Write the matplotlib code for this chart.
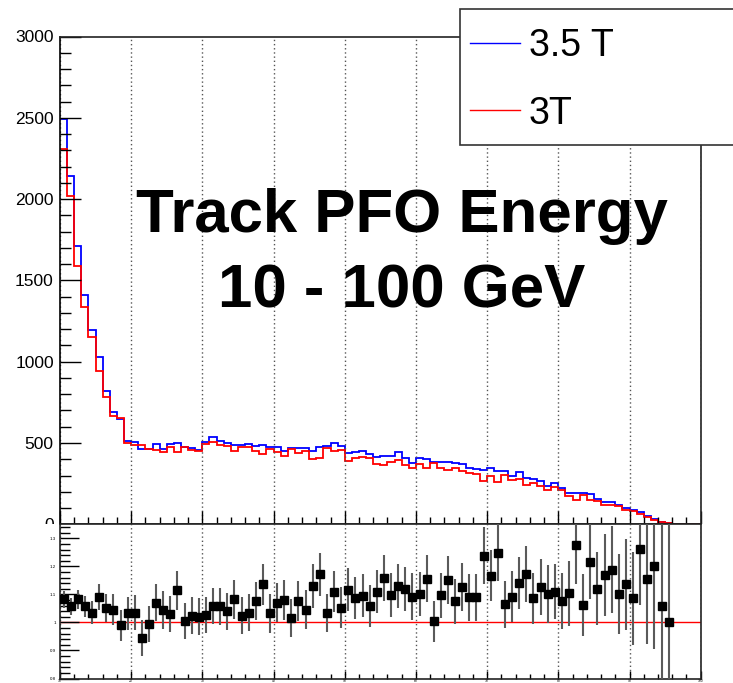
import numpy as np
import matplotlib
matplotlib.use("Agg")
import matplotlib.pyplot as plt
from matplotlib.patches import Rectangle
from matplotlib.lines import Line2D
from matplotlib.ticker import MultipleLocator

plt.rcParams['font.family'] = ['Liberation Sans', 'DejaVu Sans']

# ---------------- data ----------------
x_min, x_max, bin_width = 10, 100, 1
labels = ["3.5 T", "3T"]
title_lines = ["Track PFO Energy", "10 - 100 GeV"]

counts_35T = [2493, 2140, 1713, 1410, 1193, 1028, 817, 690, 649, 514,
              506, 461, 461, 492, 461, 492, 498, 477, 471, 457,
              508, 535, 514, 498, 488, 488, 492, 484, 488, 477,
              477, 453, 471, 471, 471, 451, 477, 484, 502, 482,
              436, 443, 451, 430, 412, 420, 420, 447, 406, 379,
              410, 404, 381, 381, 381, 375, 371, 344, 340, 332,
              349, 325, 326, 299, 319, 283, 279, 267, 234, 252,
              226, 194, 194, 192, 184, 158, 138, 138, 121, 98,
              90, 78, 51, 35, 17, 6, 0, 0, 0, 0]

counts_3T = [2310, 2020, 1586, 1334, 1153, 940, 781, 663, 654, 500,
             490, 488, 464, 459, 442, 478, 447, 475, 460, 448,
             495, 505, 486, 479, 451, 477, 475, 450, 430, 462,
             445, 420, 464, 438, 451, 400, 407, 469, 452, 458,
             390, 407, 411, 407, 371, 362, 383, 396, 363, 347,
             372, 349, 379, 347, 331, 349, 329, 316, 312, 268,
             299, 260, 306, 274, 280, 241, 257, 237, 213, 227,
             210, 176, 152, 181, 151, 141, 118, 116, 110, 86,
             83, 62, 44, 29, 16, 6, 0, 0, 0, 0]

ratio = [1.082, 1.057, 1.082, 1.057, 1.035, 1.092, 1.050, 1.045, 0.990, 1.032,
         1.035, 0.944, 0.993, 1.071, 1.044, 1.030, 1.114, 1.005, 1.024, 1.021,
         1.027, 1.059, 1.057, 1.039, 1.082, 1.024, 1.035, 1.075, 1.136, 1.032,
         1.071, 1.079, 1.016, 1.075, 1.045, 1.129, 1.171, 1.033, 1.110, 1.053,
         1.117, 1.088, 1.096, 1.057, 1.110, 1.159, 1.097, 1.130, 1.118, 1.092,
         1.101, 1.156, 1.004, 1.097, 1.150, 1.075, 1.127, 1.089, 1.089, 1.238,
         1.167, 1.249, 1.064, 1.092, 1.140, 1.173, 1.086, 1.127, 1.101, 1.110,
         1.075, 1.104, 1.277, 1.062, 1.217, 1.120, 1.169, 1.188, 1.101, 1.136,
         1.086, 1.262, 1.154, 1.201, 1.057, 1.000]

ratio_err = [0.030, 0.030, 0.035, 0.038, 0.042, 0.046, 0.050, 0.055, 0.055, 0.060,
             0.062, 0.063, 0.064, 0.066, 0.067, 0.065, 0.070, 0.065, 0.066, 0.067,
             0.064, 0.064, 0.065, 0.066, 0.068, 0.066, 0.066, 0.068, 0.074, 0.068,
             0.071, 0.072, 0.068, 0.071, 0.070, 0.078, 0.078, 0.068, 0.072, 0.072,
             0.077, 0.075, 0.075, 0.075, 0.078, 0.083, 0.078, 0.079, 0.079, 0.083,
             0.078, 0.084, 0.073, 0.081, 0.086, 0.081, 0.085, 0.085, 0.085, 0.102,
             0.091, 0.103, 0.084, 0.090, 0.093, 0.101, 0.090, 0.100, 0.103, 0.098,
             0.100, 0.115, 0.140, 0.110, 0.135, 0.130, 0.147, 0.155, 0.143, 0.163,
             0.165, 0.200, 0.230, 0.295, 0.500, 0.600]

# ---------------- figure ----------------
W, H, DPI = 733, 683, 100
fig = plt.figure(figsize=(W / DPI, H / DPI), dpi=DPI, facecolor='white')

def fr(left, top, right, bottom):
    return [left / W, 1 - bottom / H, (right - left) / W, (bottom - top) / H]

edges = np.arange(x_min, x_max + bin_width, bin_width)
centers = edges[:len(ratio)] + bin_width / 2

grid_kw = dict(color='#555555', linestyle=(0, (1, 2)), linewidth=1.0)

# top panel
ax = fig.add_axes(fr(60, 36.5, 700.7, 524.3), zorder=0)
ax.stairs(counts_35T, edges, color='#0000ff', linewidth=1.3, baseline=None)
ax.stairs(counts_3T, edges, color='#ff0000', linewidth=1.3, baseline=None)
ax.set_xlim(x_min, x_max)
ax.set_ylim(0, 3000)
ax.xaxis.set_major_locator(MultipleLocator(10))
ax.xaxis.set_minor_locator(MultipleLocator(2))
ax.yaxis.set_major_locator(MultipleLocator(500))
ax.yaxis.set_minor_locator(MultipleLocator(100))
ax.tick_params(axis='y', which='major', direction='in', length=15, width=1.0,
               labelsize=12.5, pad=4.5)
ax.tick_params(axis='y', which='minor', direction='in', length=8, width=1.0)
ax.tick_params(axis='x', which='major', direction='in', length=9.5, width=1.0,
               labelbottom=False)
ax.tick_params(axis='x', which='minor', direction='in', length=5, width=1.0)
ax.grid(True, axis='x', which='major', **grid_kw)
for s in ax.spines.values():
    s.set_linewidth(1.2)
    s.set_color('#222222')
ax.spines['left'].set_color('black')

for i, line in enumerate(title_lines):
    fig.text(402 / W, 1 - (232 + 75 * i) / H, line, ha='center', va='baseline',
             fontsize=44.5, fontweight='bold', color='black', zorder=3)

# white pad covering lower region (hides lower half of "0" label)
fig.patches.append(Rectangle((0, 0), 1, 1 - 524.3 / H, transform=fig.transFigure,
                             facecolor='white', edgecolor='none', zorder=1))

# ratio panel
rax = fig.add_axes(fr(60, 524.3, 700.7, 678.5), zorder=2)
rax.axhline(1.0, color='#ff0000', linewidth=1.0, zorder=1)
rax.errorbar(centers, ratio, yerr=ratio_err, fmt='s', color='black', markersize=5.7,
             ecolor='#5a5a5a', elinewidth=1.5, capsize=0, zorder=3)
rax.set_xlim(x_min, x_max)
rax.set_ylim(0.8, 1.35)
rax.xaxis.set_major_locator(MultipleLocator(10))
rax.xaxis.set_minor_locator(MultipleLocator(2))
rax.yaxis.set_minor_locator(MultipleLocator(0.02))
rax.set_yticks([0.8, 0.9, 1.0, 1.1, 1.2, 1.3])
rax.set_yticklabels(['0.8', '0.9', '1', '1.1', '1.2', '1.3'])
rax.tick_params(axis='y', which='major', direction='in', length=14, width=1.0,
                labelsize=3.2, pad=3)
rax.tick_params(axis='y', which='minor', direction='in', length=7, width=1.0)
rax.tick_params(axis='x', which='major', direction='in', length=6, width=1.0,
                labelsize=2.4, pad=0.3)
rax.tick_params(axis='x', which='minor', direction='in', length=3.5, width=1.0)
rax.grid(True, axis='x', which='major', **grid_kw)
for s in rax.spines.values():
    s.set_linewidth(1.2)
    s.set_color('#222222')

# legend (drawn manually, partly outside the figure like the reference)
fig.patches.append(Rectangle((460 / W, 1 - 144.5 / H), (760 - 460) / W, (144.5 - 8.5) / H,
                             transform=fig.transFigure, facecolor='white',
                             edgecolor='#333333', linewidth=1.2, zorder=4))
leg_colors = ['#0000ff', '#ff0000']
leg_y = [42.5, 110]
for lab, col, yy in zip(labels, leg_colors, leg_y):
    fig.lines.append(Line2D([470 / W, 520 / W], [1 - yy / H, 1 - yy / H],
                            transform=fig.transFigure, color=col, linewidth=1.0, zorder=5))
    fig.text(529 / W, 1 - yy / H, lab, ha='left', va='center_baseline',
             fontsize=27, color='black', zorder=5)

fig.savefig('out.png', dpi=DPI, facecolor='white')
